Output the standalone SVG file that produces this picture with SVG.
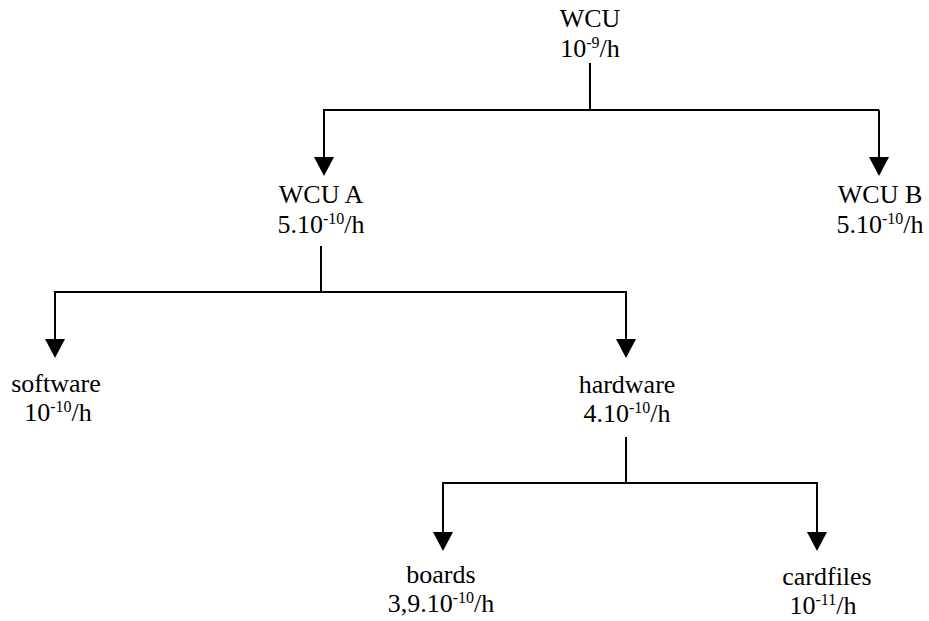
<svg xmlns="http://www.w3.org/2000/svg" width="929" height="621" viewBox="0 0 929 621">
<style>
text{font-family:"Liberation Serif","Times New Roman",serif;font-size:26px;fill:#000;text-anchor:middle}
.sup{font-size:16px}
.ln{stroke:#000;stroke-width:2;fill:none}
</style>
<defs>
<marker id="ah" markerUnits="userSpaceOnUse" viewBox="0 0 19 20" markerWidth="19" markerHeight="20" refX="16" refY="10" orient="auto">
<path d="M0,0 L19,10 L0,20 z" fill="#000"/>
</marker>
</defs>
<rect width="929" height="621" fill="#fff"/>
<g id="connectors">
<path class="ln" d="M590,63 V110"/>
<path class="ln" d="M323,110 H879"/>
<path class="ln" d="M324,110 V173" marker-end="url(#ah)"/>
<path class="ln" d="M879,110 V173" marker-end="url(#ah)"/>
<path class="ln" d="M321,246 V292"/>
<path class="ln" d="M54,292 H627"/>
<path class="ln" d="M55,292 V355" marker-end="url(#ah)"/>
<path class="ln" d="M626,292 V355" marker-end="url(#ah)"/>
<path class="ln" d="M626,437 V483"/>
<path class="ln" d="M442,483 H818"/>
<path class="ln" d="M443,483 V548" marker-end="url(#ah)"/>
<path class="ln" d="M817,483 V548" marker-end="url(#ah)"/>
</g>
<g id="wcu">
<text x="590" y="27">WCU</text>
<text x="590" y="57">10<tspan class="sup" baseline-shift="9">-9</tspan>/h</text>
</g>
<g id="wcu-a">
<text x="321" y="203">WCU A</text>
<text x="321" y="233">5.10<tspan class="sup" baseline-shift="9">-10</tspan>/h</text>
</g>
<g id="wcu-b">
<text x="880" y="203">WCU B</text>
<text x="880" y="233">5.10<tspan class="sup" baseline-shift="9">-10</tspan>/h</text>
</g>
<g id="software">
<text x="56" y="392">software</text>
<text x="58" y="421">10<tspan class="sup" baseline-shift="9">-10</tspan>/h</text>
</g>
<g id="hardware">
<text x="627" y="393">hardware</text>
<text x="627" y="422">4.10<tspan class="sup" baseline-shift="9">-10</tspan>/h</text>
</g>
<g id="boards">
<text x="441" y="583">boards</text>
<text x="441" y="612">3,9.10<tspan class="sup" baseline-shift="9">-10</tspan>/h</text>
</g>
<g id="cardfiles">
<text x="827" y="585">cardfiles</text>
<text x="823" y="614">10<tspan class="sup" baseline-shift="9">-11</tspan>/h</text>
</g>
</svg>
